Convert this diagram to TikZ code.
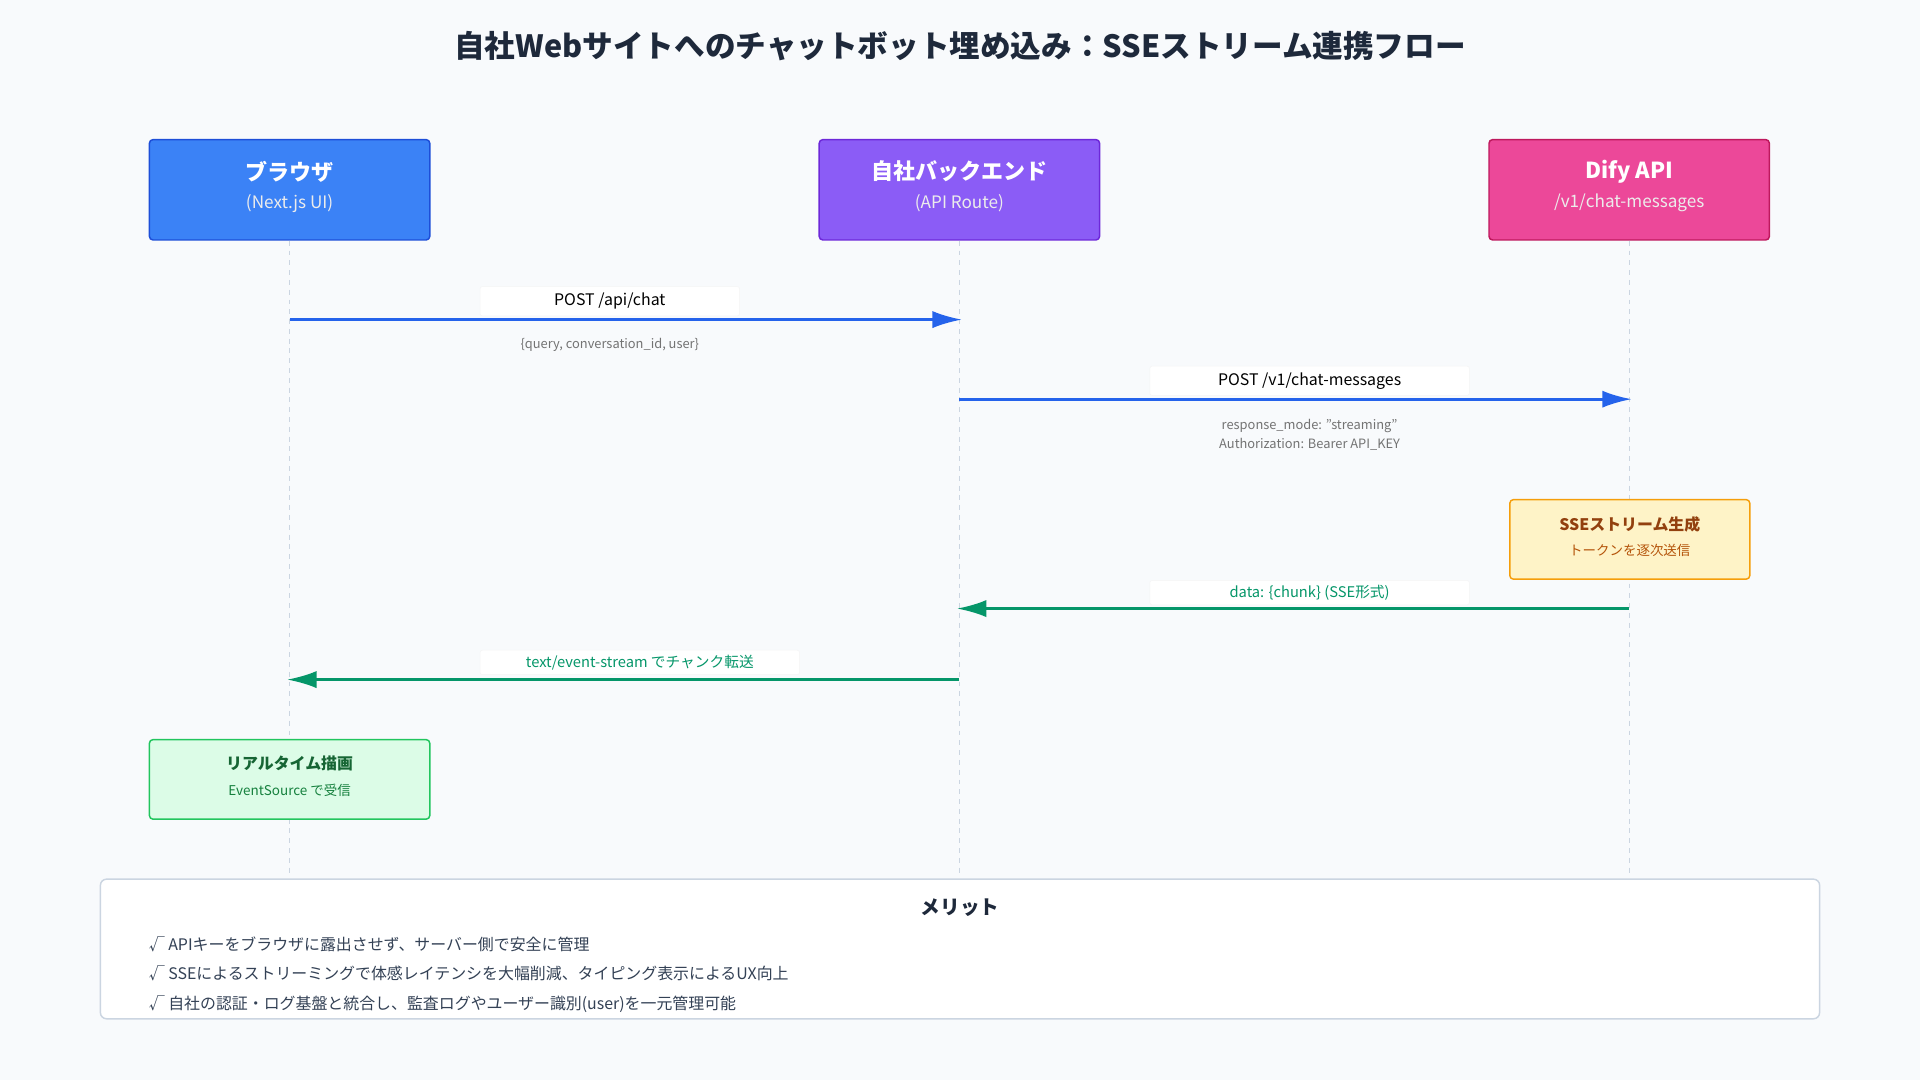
\documentclass[tikz,border=0pt]{standalone}
\usepackage{fontspec}
\setmainfont{Noto Sans CJK JP}
\usetikzlibrary{arrows.meta,positioning}
\definecolor{bg}{HTML}{F8FAFC}
\definecolor{ink}{HTML}{1E293B}
\definecolor{lifegray}{HTML}{CBD5E1}
\definecolor{reqblue}{HTML}{2563EB}
\definecolor{resgreen}{HTML}{059669}
\definecolor{bluefill}{HTML}{3B82F6}\definecolor{blueline}{HTML}{1D4ED8}
\definecolor{purpfill}{HTML}{8B5CF6}\definecolor{purpline}{HTML}{6D28D9}
\definecolor{pinkfill}{HTML}{EC4899}\definecolor{pinkline}{HTML}{BE185D}
\definecolor{amberfill}{HTML}{FEF3C7}\definecolor{amberline}{HTML}{F59E0B}
\definecolor{amberhead}{HTML}{92400E}\definecolor{ambertext}{HTML}{B45309}
\definecolor{greenfill}{HTML}{DCFCE7}\definecolor{greenline}{HTML}{22C55E}
\definecolor{greenhead}{HTML}{166534}\definecolor{greentext}{HTML}{15803D}
\definecolor{slate}{HTML}{334155}
\begin{document}
\begin{tikzpicture}[x=1pt,y=-1pt]
        \tikzstyle{actor}=[rounded corners=3pt,line width=1.2pt,minimum width=229pt,minimum height=82pt,align=center,text=white]
        \tikzstyle{note}=[rounded corners=3pt,line width=1.2pt,minimum height=65pt,align=center]
        \tikzstyle{life}=[draw=lifegray,line width=1pt,dash pattern=on 4pt off 4pt]
        \tikzstyle{req}=[draw=reqblue,line width=2.2pt,-{Latex[length=24pt,width=14pt]}]
        \tikzstyle{res}=[draw=resgreen,line width=2.2pt,-{Latex[length=24pt,width=14pt]}]
        \tikzstyle{lab}=[fill=white,draw=black!4,rounded corners=2pt,minimum height=24pt,font=\fontsize{13}{15}\selectfont]
        \tikzstyle{sub}=[text=black!55,font=\fontsize{10.5}{16}\selectfont,align=center]
        \fill[bg] (0,0) rectangle (1568,882);
        \useasboundingbox (0,0) rectangle (1568,882);
        \node[text=ink,font=\fontsize{25}{30}\selectfont\bfseries] (title) at (784,38) {自社Webサイトへのチャットボット埋め込み：SSEストリーム連携フロー};

        % actors
        \node[actor,fill=bluefill,draw=blueline] (browser) at (236.5,155) {};
        \node[actor,fill=purpfill,draw=purpline] (backend) at (783.5,155) {};
        \node[actor,fill=pinkfill,draw=pinkline] (dify) at (1330.5,155) {};
        \foreach \n/\t/\s in {browser/ブラウザ/{(Next.js UI)},backend/自社バックエンド/{(API Route)},dify/Dify API/{\slash v1\slash chat-messages}}{
          \node[text=white,font=\fontsize{18}{20}\selectfont\bfseries] at ([yshift=15pt]\n.center) {\t};
          \node[text=white!85!gray,font=\fontsize{14}{16}\selectfont] at ([yshift=-11pt]\n.center) {\s};
        }

        % lifelines
        \coordinate (bend) at (236.5,715);
        \coordinate (kend) at (783.5,715);
        \coordinate (dend) at (1330.5,715);
        \path[life] (browser) -- (bend);
        \path[life] (backend) -- (kend);
        \path[life] (dify) -- (dend);

        % messages
        \coordinate (b1) at (236.5,261); \coordinate (k1) at (785.5,261);
        \coordinate (k2) at (783.5,326); \coordinate (d2) at (1332.5,326);
        \coordinate (d3) at (1330.5,497); \coordinate (k3) at (781.5,497);
        \coordinate (k4) at (783.5,555); \coordinate (b4) at (234.5,555);
        \path[req] (b1) -- (k1);
        \path[req] (k2) -- (d2);
        \path[res] (d3) -- (k3);
        \path[res] (k4) -- (b4);
        \node[lab,minimum width=212pt] (m1) at (498,246) {POST /api/chat};
        \node[sub] (m1s) at (498,282) {\{query, conversation\_id, user\}};
        \node[lab,minimum width=261pt] (m2) at (1069.5,311) {POST /v1/chat-messages};
        \node[sub] (m2s) at (1069.5,355) {response\_mode: "streaming"\\Authorization: Bearer API\_KEY};
        \node[lab,minimum width=261pt,minimum height=20pt,text=resgreen,font=\fontsize{12}{14}\selectfont] (m3) at (1069.5,484) {data: \{chunk\} (SSE形式)};
        \node[lab,minimum width=261pt,minimum height=20pt,text=resgreen,font=\fontsize{12}{14}\selectfont] (m4) at (522.5,541) {text/event-stream でチャンク転送};

        % notes
        \node[note,minimum width=196pt,fill=amberfill,draw=amberline] (gen) at (1331,440.5) {};
        \node[text=amberhead,font=\fontsize{13}{15}\selectfont\bfseries] at ([yshift=12pt]gen.center) {SSEストリーム生成};
        \node[text=ambertext,font=\fontsize{11}{13}\selectfont] at ([yshift=-9pt]gen.center) {トークンを逐次送信};
        \node[note,minimum width=229pt,fill=greenfill,draw=greenline] (render) at (236.5,636.5) {};
        \node[text=greenhead,font=\fontsize{13}{15}\selectfont\bfseries] at ([yshift=13pt]render.center) {リアルタイム描画};
        \node[text=greentext,font=\fontsize{11}{13}\selectfont] at ([yshift=-9pt]render.center) {EventSource で受信};

        % merits
        \draw[fill=white,draw=lifegray,line width=1.2pt,rounded corners=5pt] (82,718) rectangle (1486,832);
        \node[text=ink,font=\fontsize{16}{18}\selectfont\bfseries] (merit) at (784,741) {メリット};
        \foreach \y/\t in {771/APIキーをブラウザに露出させず、サーバー側で安全に管理,
                           795/SSEによるストリーミングで体感レイテンシを大幅削減、タイピング表示によるUX向上,
                           820/自社の認証・ログ基盤と統合し、監査ログやユーザー識別(user)を一元管理可能}
          \node[anchor=west,text=slate,font=\fontsize{13}{15}\selectfont] at (118,\y) {√ \t};
\end{tikzpicture}
\end{document}
